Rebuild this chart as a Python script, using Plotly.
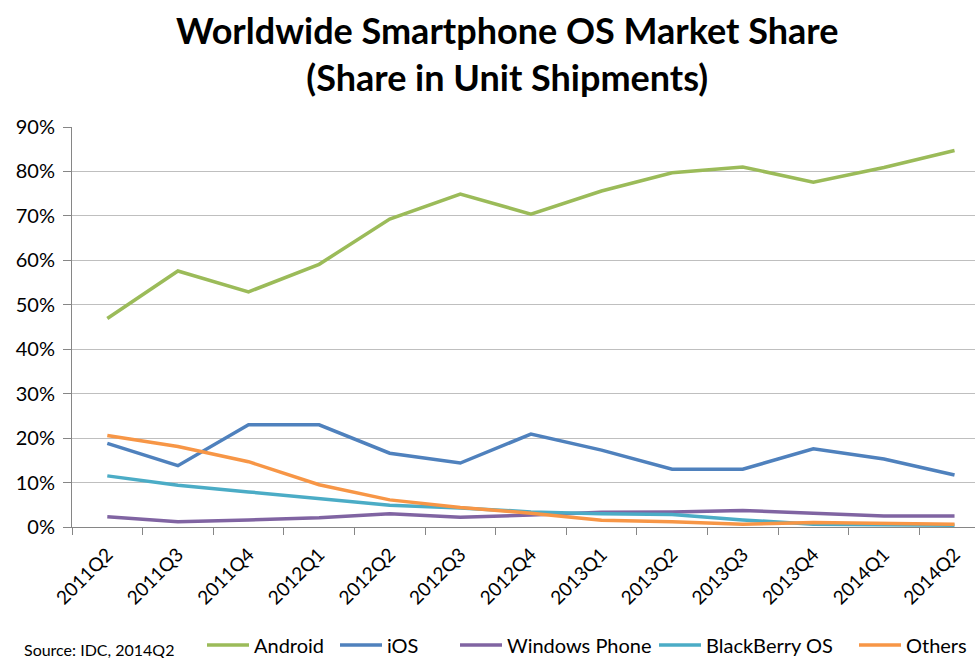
import plotly.graph_objects as go

quarters = ["2011Q2", "2011Q3", "2011Q4", "2012Q1", "2012Q2", "2012Q3", "2012Q4",
            "2013Q1", "2013Q2", "2013Q3", "2013Q4", "2014Q1", "2014Q2"]
android = [46.9, 57.6, 52.9, 59.1, 69.3, 74.9, 70.4, 75.6, 79.7, 81.0, 77.6, 80.9, 84.7]
ios = [18.8, 13.8, 23.0, 23.0, 16.6, 14.4, 20.9, 17.3, 13.0, 13.0, 17.6, 15.3, 11.7]
windows_phone = [2.3, 1.2, 1.6, 2.1, 3.0, 2.2, 2.7, 3.3, 3.4, 3.7, 3.1, 2.5, 2.5]
blackberry = [11.5, 9.4, 7.9, 6.4, 4.9, 4.3, 3.4, 3.0, 2.8, 1.6, 0.6, 0.5, 0.4]
others = [20.6, 18.1, 14.7, 9.5, 6.1, 4.4, 3.1, 1.5, 1.2, 0.6, 1.0, 0.8, 0.6]
y_ticks = [0, 10, 20, 30, 40, 50, 60, 70, 80, 90]

series = [
    ("Android", android, "#9BBB59"),
    ("iOS", ios, "#4F81BD"),
    ("Windows Phone", windows_phone, "#8064A2"),
    ("BlackBerry OS", blackberry, "#4BACC6"),
    ("Others", others, "#F79646"),
]
legend_left_px = [202, 335, 455, 654, 854]

PLOT_L, PLOT_W, PLOT_B, PLOT_H = 72, 903, 527, 400
font_family = "Lato, Open Sans, sans-serif"

fig = go.Figure()
legend_layouts = {}
for i, (name, vals, color) in enumerate(series):
    key = "legend" if i == 0 else f"legend{i + 1}"
    fig.add_trace(go.Scatter(
        x=quarters, y=[v / 100 for v in vals], name=name, mode="lines",
        line=dict(color=color, width=3.5), legend=key,
    ))
    legend_layouts[key] = dict(
        orientation="h", x=(legend_left_px[i] - PLOT_L) / PLOT_W, xanchor="left",
        y=(PLOT_B - 645) / PLOT_H, yanchor="middle", bgcolor="rgba(0,0,0,0)",
        font=dict(size=20, color="black", family=font_family), itemwidth=42,
    )

fig.update_layout(
    width=975, height=658,
    margin=dict(l=72, r=0, t=127, b=131, autoexpand=False),
    paper_bgcolor="white", plot_bgcolor="white",
    font=dict(family=font_family, color="black"),
    showlegend=True,
    xaxis=dict(
        type="category", range=[-0.5, 12.29],
        tickangle=-45, tickson="boundaries", ticks="outside", ticklen=7,
        tickcolor="#868686", showline=True, linecolor="#868686", linewidth=1,
        showgrid=False, tickfont=dict(size=19, color="black"),
        ticklabelstandoff=8,
    ),
    yaxis=dict(
        range=[0, 0.9], tickvals=[v / 100 for v in y_ticks],
        ticktext=[f"{v}%" for v in y_ticks],
        ticks="outside", ticklen=8, tickcolor="#868686",
        showline=True, linecolor="#868686", linewidth=1,
        showgrid=True, gridcolor="#BFBFBF", gridwidth=1,
        zeroline=False, tickfont=dict(size=20, color="black"),
        ticklabelstandoff=4,
    ),
    annotations=[
        dict(
            text="<b>Worldwide Smartphone OS Market Share<br>(Share in Unit Shipments)</b>",
            xref="paper", yref="paper", x=(507 - PLOT_L) / PLOT_W, xanchor="center",
            y=(PLOT_B - 54) / PLOT_H, yanchor="middle", showarrow=False,
            font=dict(family=font_family, size=36, color="black"),
        ),
        dict(
            text="Source: IDC, 2014Q2", xref="paper", yref="paper",
            x=(22 - PLOT_L) / PLOT_W, xanchor="left", y=(PLOT_B - 649) / PLOT_H,
            yanchor="middle", showarrow=False, font=dict(size=16, color="black"),
        ),
    ],
    **legend_layouts,
)

fig.write_html("out.html")
